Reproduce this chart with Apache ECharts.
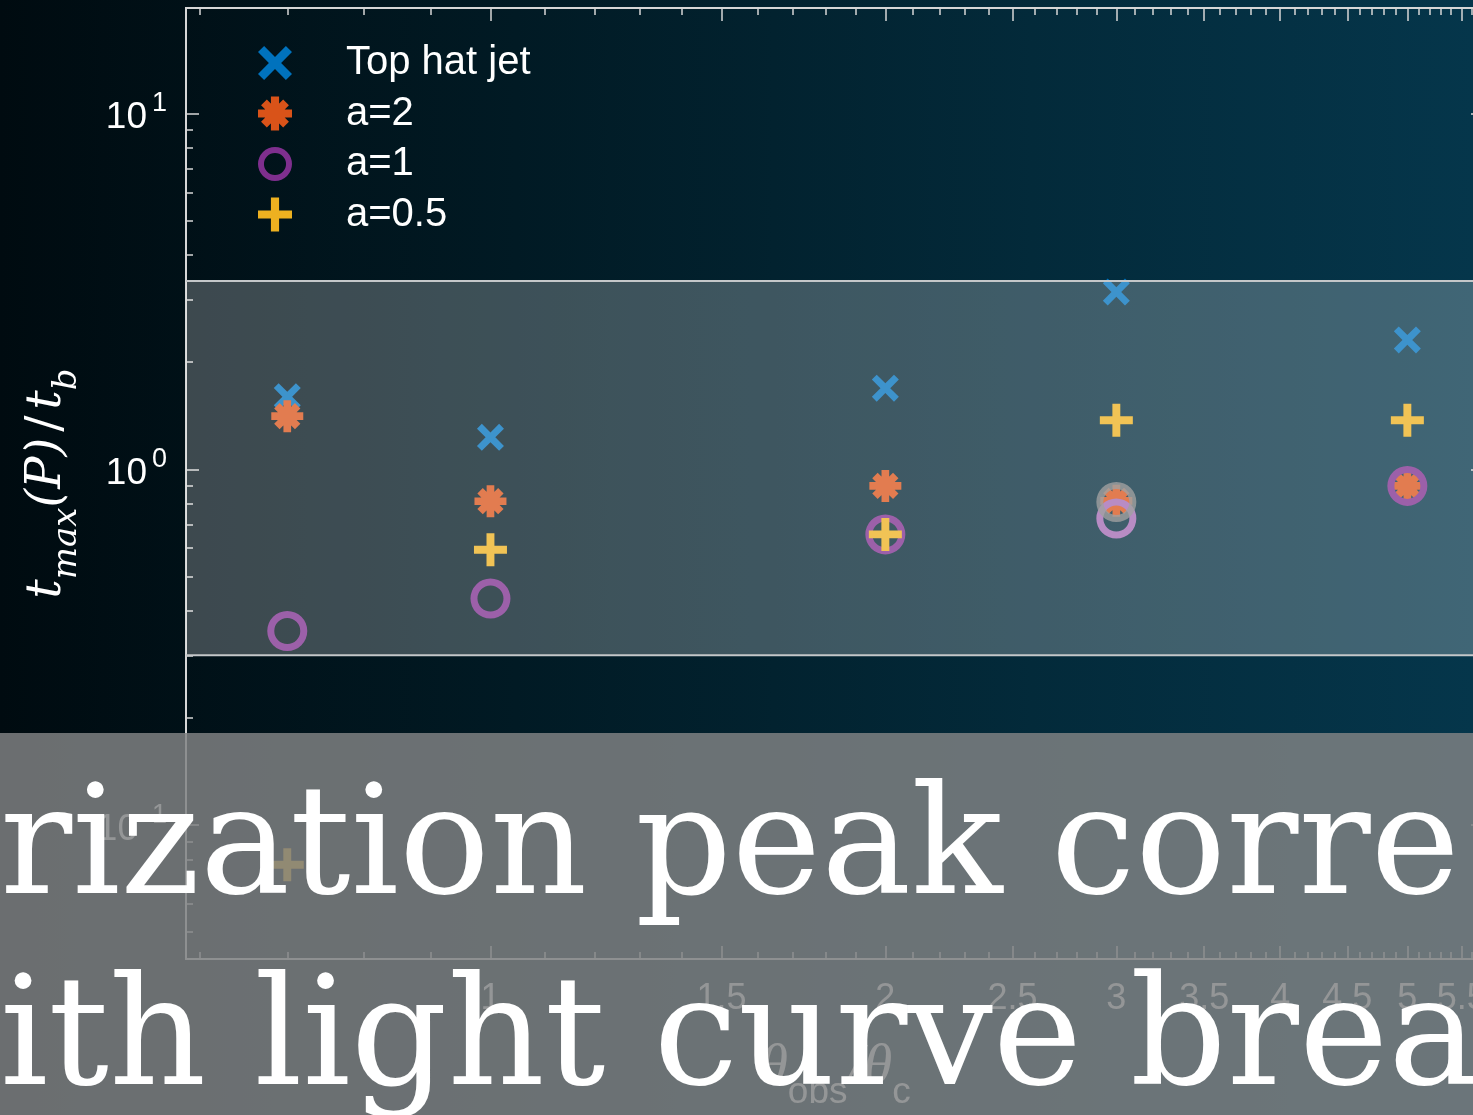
<!DOCTYPE html>
<html>
<head>
<meta charset="utf-8">
<title>Polarization peak vs light curve break</title>
<script src="https://cdn.jsdelivr.net/npm/echarts@6/dist/echarts.min.js"></script>
<style>
  html, body { margin: 0; padding: 0; overflow: hidden; background: #000; }
  #chart {
    width: 1473px; height: 1115px;
    background: linear-gradient(to right, #000b10 0%, #011a24 35%, #032a3a 70%, #05364b 100%);
  }
</style>
</head>
<body>
<div id="chart"></div>
<script>
// ---- data ----
const X_VALUES = [0.7, 1, 2, 3, 5];                 // theta_obs / theta_c
const TOP_HAT_JET = [1.6, 1.23, 1.69, 3.15, 2.31];
const A_2 = [1.41, 0.813, 0.898, 0.815, 0.898];
const A_1 = [0.351, 0.433, 0.656, 0.727, 0.898];
const A_05 = [0.0773, 0.594, 0.656, 1.373, 1.373];
const EXTRA_X = [3];                                  // grey ring without legend entry
const EXTRA_Y = [0.809];
const SERIES_NAMES = ['Top hat jet', 'a=2', 'a=1', 'a=0.5'];

const X_RANGE = [0.586, 5.72];
const Y_RANGE = [0.042, 19.8];
const X_MAJOR = [1, 1.5, 2, 2.5, 3, 3.5, 4, 4.5, 5, 5.5];
const X_MINOR = [0.6, 0.7, 0.8, 0.9, 1.1, 1.2, 1.3, 1.4, 1.6, 1.7, 1.8, 1.9,
                 2.1, 2.2, 2.3, 2.4, 2.6, 2.7, 2.8, 2.9, 3.1, 3.2, 3.3, 3.4,
                 3.6, 3.7, 3.8, 3.9, 4.1, 4.2, 4.3, 4.4, 4.6, 4.7, 4.8, 4.9,
                 5.1, 5.2, 5.3, 5.4, 5.6, 5.7];
const Y_MAJOR = [0.1, 1, 10];
const Y_MINOR = [0.05, 0.06, 0.07, 0.08, 0.09, 0.2, 0.3, 0.4, 0.5, 0.6, 0.7, 0.8, 0.9,
                 2, 3, 4, 5, 6, 7, 8, 9];
const BAND = [0.3, 3.38];                             // highlighted range of t_max/t_b
const TITLE_LINES = ['rization peak corre', 'ith light curve brea'];

// ---- marker shapes ----
const SYM_CROSS = 'path://M0,18 L18,0 L50,32 L82,0 L100,18 L68,50 L100,82 L82,100 L50,68 L18,100 L0,82 L32,50 Z';
const SYM_STAR = 'path://M0,38 H100 V62 H0 Z M38,0 H62 V100 H38 Z M9,26 L26,9 L91,74 L74,91 Z M74,9 L91,26 L26,91 L9,74 Z';
const SYM_RING = 'path://M50,0 A50,50 0 1,1 50,100 A50,50 0 1,1 50,0 Z M50,17.5 A32.5,32.5 0 1,0 50,82.5 A32.5,32.5 0 1,0 50,17.5 Z';
const SYM_PLUS = 'path://M38,0 H62 V38 H100 V62 H62 V100 H38 V62 H0 V38 H38 Z';

const COLORS = ['#0072BD', '#D95319', '#7E2F8E', '#EDB120'];

function pairs(xs, ys) { return xs.map((x, i) => [x, ys[i]]); }

const AXIS_LINE = { show: true, lineStyle: { color: '#d6d6d6', width: 2 } };
const SANS = 'Liberation Sans, Arial, sans-serif';
const SERIF = 'Liberation Serif, Times New Roman, serif';
const MATH = 'DejaVu Serif, serif';

function xAxis(position, ticks, len, withLabels) {
  const ax = {
    type: 'log', logBase: 10, gridIndex: 0, position: position,
    min: X_RANGE[0], max: X_RANGE[1],
    axisLine: AXIS_LINE,
    axisTick: { show: true, inside: true, length: len, customValues: ticks,
                lineStyle: { color: '#d6d6d6', width: 1.5 } },
    axisLabel: { show: false },
    splitLine: { show: false }, minorTick: { show: false }
  };
  if (withLabels) {
    ax.axisLabel = {
      show: true, customValues: X_MAJOR, margin: 22,
      color: '#ffffff', fontSize: 36, fontFamily: SANS,
      formatter: v => String(Math.round(v * 10) / 10)
    };
    ax.name = '{t|θ}{s|obs}{t|/θ}{s|c}';
    ax.nameLocation = 'middle';
    ax.nameGap = 80;
    ax.nameTextStyle = {
      color: '#ffffff',
      rich: {
        t: { fontFamily: SERIF, fontStyle: 'italic', fontSize: 58, lineHeight: 72, verticalAlign: 'top', color: '#ffffff' },
        s: { fontFamily: SANS, fontSize: 37, lineHeight: 72, verticalAlign: 'bottom', color: '#ffffff' }
      }
    };
  }
  return ax;
}

function yAxis(position, ticks, len, withLabels) {
  const ax = {
    type: 'log', logBase: 10, gridIndex: 0, position: position,
    min: Y_RANGE[0], max: Y_RANGE[1],
    axisLine: AXIS_LINE,
    axisTick: { show: true, inside: true, length: len, customValues: ticks,
                lineStyle: { color: '#d6d6d6', width: 1.5 } },
    axisLabel: { show: false },
    splitLine: { show: false }, minorTick: { show: false }
  };
  if (withLabels) {
    ax.axisLabel = {
      show: true, customValues: Y_MAJOR, margin: 19,
      formatter: v => '{b|10}{s|' + Math.round(Math.log10(v)) + '}',
      rich: {
        b: { fontFamily: SANS, fontSize: 37, lineHeight: 46, verticalAlign: 'bottom', color: '#ffffff' },
        s: { fontFamily: SANS, fontSize: 27, lineHeight: 46, verticalAlign: 'top', color: '#ffffff', padding: [0, 0, 0, 5] }
      }
    };
    ax.name = '{i|t}{s|max}{i|(P)}{sl|/}{i|t}{s|b}';
    ax.nameLocation = 'middle';
    ax.nameRotate = 90;
    ax.nameGap = 102;
    ax.nameTextStyle = {
      color: '#ffffff',
      rich: {
        i: { fontFamily: MATH, fontStyle: 'italic', fontSize: 48, lineHeight: 60, verticalAlign: 'top', color: '#ffffff' },
        sl: { fontFamily: MATH, fontSize: 48, lineHeight: 60, verticalAlign: 'top', color: '#ffffff', padding: [0, 6, 0, 6] },
        s: { fontFamily: MATH, fontStyle: 'italic', fontSize: 34, lineHeight: 60, verticalAlign: 'bottom', color: '#ffffff' }
      }
    };
  }
  return ax;
}

function scatter(name, ys, symbol, size, color) {
  return {
    name: name, type: 'scatter', xAxisIndex: 0, yAxisIndex: 0, z: 2,
    data: pairs(X_VALUES, ys),
    symbol: symbol, symbolSize: size,
    itemStyle: { color: color, opacity: 1 },
    emphasis: { disabled: true }
  };
}

const ringSeries = scatter(SERIES_NAMES[2], A_1, SYM_RING, 40, COLORS[2]);
// the ring at theta_obs/theta_c = 3 is drawn in a lighter purple
ringSeries.data = ringSeries.data.map((p, i) =>
  X_VALUES[i] === 3 ? { value: p, itemStyle: { color: '#a268b2' } } : p);

const option = {
  backgroundColor: 'transparent',
  animation: false,
  grid: { left: 186, top: 8, right: -11, bottom: 156, outerBoundsMode: 'none', containLabel: false },
  legend: {
    data: SERIES_NAMES, orient: 'vertical', left: 253, top: 38,
    itemWidth: 132, itemHeight: 34, itemGap: 10.5,
    textStyle: { color: '#ffffff', fontSize: 40, fontFamily: SANS },
    selectedMode: false
  },
  xAxis: [
    xAxis('bottom', X_MAJOR, 13, true),
    xAxis('bottom', X_MINOR, 7, false),
    xAxis('top', X_MAJOR, 13, false),
    xAxis('top', X_MINOR, 7, false)
  ],
  yAxis: [
    yAxis('left', Y_MAJOR, 13, true),
    yAxis('left', Y_MINOR, 7, false),
    yAxis('right', Y_MAJOR, 13, false),
    yAxis('right', Y_MINOR, 7, false)
  ],
  series: [
    scatter(SERIES_NAMES[0], TOP_HAT_JET, SYM_CROSS, 27, COLORS[0]),
    scatter(SERIES_NAMES[1], A_2, SYM_STAR, 32, COLORS[1]),
    ringSeries,
    {
      name: 'extra', type: 'scatter', xAxisIndex: 0, yAxisIndex: 0, z: 2,
      data: pairs(EXTRA_X, EXTRA_Y), symbol: SYM_RING, symbolSize: 40,
      itemStyle: { color: '#838383' }, emphasis: { disabled: true }
    },
    scatter(SERIES_NAMES[3], A_05, SYM_PLUS, 33, COLORS[3]),
    {
      // translucent highlight band over the markers
      name: 'band', type: 'custom', xAxisIndex: 0, yAxisIndex: 0, z: 10,
      data: [[X_RANGE[0], BAND[0], X_RANGE[1], BAND[1]]],
      encode: { x: [0, 2], y: [1, 3] },
      clip: false,
      silent: true,
      renderItem: function (params, api) {
        const p0 = api.coord([api.value(0), api.value(1)]);
        const p1 = api.coord([api.value(2), api.value(3)]);
        const x = Math.min(p0[0], p1[0]), w = Math.abs(p1[0] - p0[0]);
        const yTop = Math.min(p0[1], p1[1]), yBot = Math.max(p0[1], p1[1]);
        return {
          type: 'group',
          children: [
            { type: 'rect', shape: { x: x, y: yTop, width: w, height: yBot - yTop },
              style: { fill: 'rgba(255,255,255,0.24)' } },
            { type: 'line', shape: { x1: x, y1: yTop, x2: x + w, y2: yTop },
              style: { stroke: '#c4c7c9', lineWidth: 2 } },
            { type: 'line', shape: { x1: x, y1: yBot, x2: x + w, y2: yBot },
              style: { stroke: '#c4c7c9', lineWidth: 2 } }
          ]
        };
      }
    }
  ],
  graphic: [
    { type: 'rect', z: 100, silent: true,
      shape: { x: 0, y: 733, width: 1473, height: 382 },
      style: { fill: 'rgba(127,130,131,0.84)' } },
    { type: 'text', z: 101, silent: true, x: 0, y: 854,
      style: { x: 0, y: 0, text: TITLE_LINES[0], fill: '#ffffff',
               font: '151px "DejaVu Serif", serif', verticalAlign: 'middle' } },
    { type: 'text', z: 101, silent: true, x: 0, y: 1045,
      style: { x: 0, y: 0, text: TITLE_LINES[1], fill: '#ffffff',
               font: '151px "DejaVu Serif", serif', verticalAlign: 'middle' } }
  ]
};

const chart = echarts.init(document.getElementById('chart'), null, { renderer: 'canvas' });
chart.setOption(option);
</script>
</body>
</html>
